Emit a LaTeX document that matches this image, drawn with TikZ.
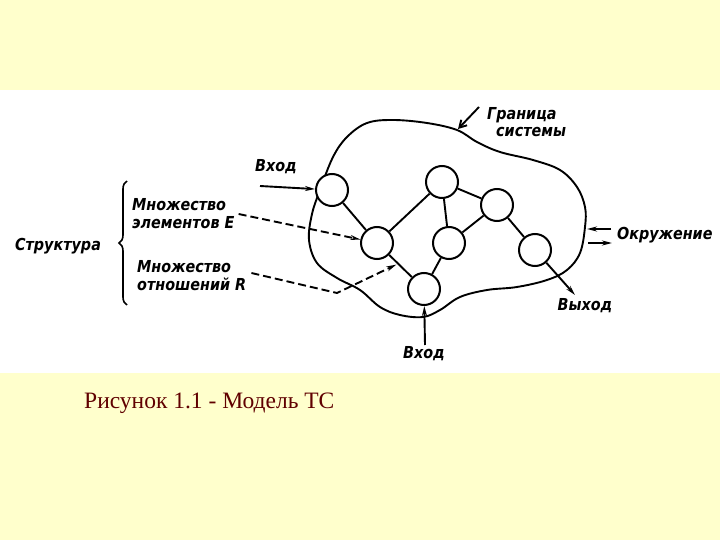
\documentclass[tikz,border=0pt]{standalone}
\usepackage{fontspec}
\setmainfont{Liberation Serif}
\newfontfamily\scanfont[FakeStretch=0.87]{DejaVu Sans}
\usetikzlibrary{arrows.meta,decorations.pathreplacing,calc}
\definecolor{paper}{RGB}{255,255,204}
\definecolor{capred}{RGB}{96,0,0}
\begin{document}
\begin{tikzpicture}[
    x=1pt,y=-1pt,
    EL/.style={fill=white,draw=black,circle,line width=2pt,minimum size=32pt,inner sep=0pt},
    LL/.style={draw=black,line width=1.9pt},
    DL/.style={LL,dash pattern=on 8pt off 4pt},
    AR/.style={-{Stealth[length=10pt,width=5pt]}},
    TX/.style={font=\scanfont\bfseries\itshape\fontsize{16.5}{18}\selectfont,inner sep=0pt}
    ]
    \useasboundingbox (0,0) rectangle (720,540);
    \fill [paper] (0,0) rectangle (720,540);
    \fill [white] (0,90) rectangle (720,373);
    % system boundary
    \draw [LL] plot [smooth cycle, tension=0.6] coordinates {
      (333,157) (347,137) (367,123) (393,120) (427,123) (457,130) (477,142)
      (500,152) (533,160) (560,170) (577,187) (585,207) (585,227) (580,253)
      (567,270) (547,280) (517,287) (487,290) (460,297) (440,310) (423,317)
      (400,315) (380,307) (360,290) (337,278) (317,263) (309,240) (312,214) (320,190)};
    % elements
    \node [EL] (A) at (332,190) {};
    \node [EL] (B) at (442,182) {};
    \node [EL] (C) at (497,205) {};
    \node [EL] (D) at (377,243) {};
    \node [EL] (E) at (449,243) {};
    \node [EL] (F) at (535,250) {};
    \node [EL] (G) at (424,289) {};
    % relations
    \draw [LL] (A) -- (D);
    \draw [LL] (D) -- (B);
    \draw [LL] (B) -- (E);
    \draw [LL] (B) -- (C);
    \draw [LL] (C) -- (E);
    \draw [LL] (C) -- (F);
    \draw [LL] (D) -- (G);
    \draw [LL] (E) -- (G);
    % inputs and outputs
    \coordinate (inL) at (260,186);
    \coordinate (inB) at (425,345);
    \coordinate (out) at (575,295);
    \draw [LL,AR] (inL) -- (A);
    \draw [LL,AR] (inB) -- (G);
    \draw [LL,AR] (F) -- (out);
    \node [TX] (inLt) at (276,167) {Вход};
    \node [TX] (inBt) at (424,354) {Вход};
    \node [TX] (outt) at (585,306) {Выход};
    % environment
    \coordinate (envA) at (611,229);
    \coordinate (envB) at (587,229);
    \coordinate (envC) at (588,243);
    \coordinate (envD) at (612,243);
    \draw [LL,AR] (envA) -- (envB);
    \draw [LL,AR] (envC) -- (envD);
    \node [TX,anchor=west] (envt) at (617,235) {Окружение};
    % boundary label
    \coordinate (bnd) at (458,129);
    \coordinate (bndS) at (479,107);
    \draw [LL,-{Straight Barb[length=7pt,width=8pt]}] (bndS) -- (bnd);
    \node [TX,anchor=west] (gr1) at (487,115) {Граница};
    \node [TX,anchor=west] (gr2) at (496,132) {системы};
    % structure
    \node [TX] (str) at (58,246) {Структура};
    \draw [LL,line width=1.6pt,decorate,
      decoration={brace,amplitude=8pt}] (127,305) -- (127,181);
    \node [TX,anchor=west,align=left] (setE) at (132,214) {Множество\\элементов E};
    \node [TX,anchor=west,align=left] (setR) at (137,276) {Множество\\отношений R};
    \coordinate (bendR) at (337,293);
    \coordinate (eE) at ($(setE.east)+(4,0)$);
    \coordinate (eR) at ($(setR.east)+(5,-3)$);
    \draw [DL,AR] (eE) -- (D);
    \draw [DL,AR,shorten >=2pt] (eR) -- (bendR) -- ($(D)!0.45!(G)$);
    % caption
    \node [font=\fontsize{23.5}{26}\selectfont,text=capred,anchor=west,inner sep=0pt] (cap)
      at (84,403) {Рисунок 1.1 - Модель ТС};
\end{tikzpicture}
\end{document}
